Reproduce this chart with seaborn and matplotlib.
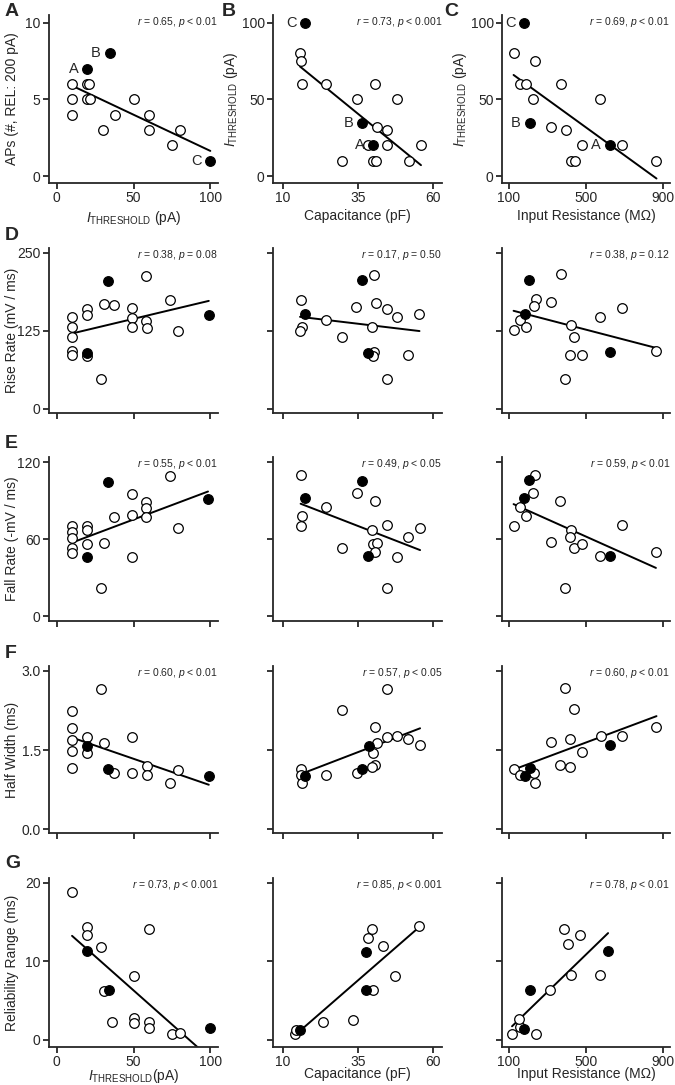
import numpy as np
import pandas as pd
import matplotlib
matplotlib.use("Agg")
import matplotlib.pyplot as plt
import seaborn as sns

# ---- data: (x, y) per panel, open circles and filled (example) cells ----
# row 1
a_open = [(10, 6), (10, 5), (10, 4), (20, 6), (21, 6), (20, 5), (22, 5), (30, 3), (38, 4),
          (50, 5), (60, 4), (60, 3), (75, 2), (80, 3)]
a_fill = [(20, 7), (34.5, 8), (100, 1)]
b_open = [(15.7, 80), (15.9, 75), (16.2, 60), (24.4, 60), (34.7, 50), (40.8, 60), (48.1, 50),
          (41.2, 32), (44.8, 30), (38.5, 20), (44.8, 20), (56, 20), (29.8, 10), (39.9, 10),
          (41, 10), (51.9, 10)]
b_fill = [(17.5, 100), (36.5, 34.5), (40.1, 20)]
c_open = [(124, 80), (236, 75), (156, 60), (190, 60), (368, 60), (225, 50), (573, 50),
          (319, 32), (396, 30), (479, 20), (688, 20), (420, 10), (441, 10), (865, 10)]
c_fill = [(180, 100), (208, 34.5), (622, 20)]
abc_labels = ["A", "B", "C"]

# row 2 - rise rate
d1_open = [(10, 147), (10, 132), (10, 115), (10, 93), (10, 86), (20, 160), (20, 150), (20, 85),
           (31, 169), (37, 167), (29, 48), (49, 162), (49, 146), (49, 132), (58, 213), (58, 141),
           (59, 130), (74, 175), (79, 125)]
d1_fill = [(33.5, 205), (19.6, 90), (99, 151)]
d2_open = [(15.9, 175), (16.2, 131), (15.7, 125), (24.4, 142), (29.8, 116), (34.5, 164),
           (40.5, 215), (41, 170), (44.6, 161), (47.9, 147), (55.5, 152), (39.6, 132),
           (40.5, 92), (39.9, 85), (51.7, 87), (44.6, 48)]
d2_fill = [(36.5, 206), (17.5, 152), (38.3, 90)]
d3_open = [(368, 217), (239, 176), (229, 165), (319, 171), (156, 143), (187, 131), (124, 126),
           (420, 134), (437, 116), (417, 87), (479, 87), (392, 48), (573, 148), (688, 162),
           (862, 93)]
d3_fill = [(204, 207), (183, 153), (622, 92)]

# row 3 - fall rate
e1_open = [(10, 70), (10, 66), (10, 61), (10, 53), (10, 49), (20, 70), (20, 67), (20, 56),
           (31, 57), (29, 22), (37, 77), (49, 95), (49, 79), (49, 46), (58, 89), (58, 84),
           (58, 77), (73.5, 109), (79, 69)]
e1_fill = [(33.5, 104.5), (19.6, 46.5), (98.5, 91.5)]
e2_open = [(15.9, 110), (16.2, 78), (15.9, 70), (24.4, 85), (34.7, 96), (40.8, 90), (44.8, 71),
           (39.6, 67), (51.7, 61.5), (55.7, 69), (39.9, 56), (41.2, 57), (40.8, 50), (29.8, 53),
           (48.1, 46.5), (44.8, 22)]
e2_fill = [(36.5, 105.5), (17.5, 92), (38.5, 47)]
e3_open = [(236, 110), (225, 96), (156, 85), (187, 78), (124, 70), (364, 90), (319, 58),
           (420, 67), (417, 61.5), (437, 53), (479, 56), (573, 47), (688, 71), (862, 50),
           (392, 22)]
e3_fill = [(204, 106), (180, 92.5), (622, 47)]

# row 4 - half width
f1_open = [(10, 2.23), (10, 1.92), (10, 1.69), (10, 1.49), (10, 1.16), (20, 1.74), (20, 1.44),
           (29, 2.65), (31, 1.63), (37, 1.07), (49, 1.75), (49, 1.06), (59, 1.2), (59, 1.02),
           (74, 0.87), (79, 1.13)]
f1_fill = [(19.6, 1.58), (33.5, 1.15), (99, 1.0)]
f2_open = [(44.8, 2.66), (29.8, 2.26), (40.8, 1.93), (41.2, 1.64), (44.8, 1.75), (47.9, 1.76),
           (51.7, 1.7), (55.7, 1.6), (40.1, 1.45), (40.8, 1.21), (39.6, 1.17), (34.7, 1.07),
           (24.4, 1.02), (15.9, 1.15), (15.9, 1.02), (16.2, 0.88)]
f2_fill = [(38.7, 1.58), (36.5, 1.15), (17.5, 1.0)]
f3_open = [(392, 2.68), (437, 2.27), (319, 1.65), (417, 1.71), (479, 1.46), (577, 1.76),
           (688, 1.76), (865, 1.94), (364, 1.22), (417, 1.17), (124, 1.15), (156, 1.03),
           (229, 1.07), (236, 0.88)]
f3_fill = [(625, 1.59), (208, 1.16), (183, 1.0)]

# row 5 - reliability range
g1_open = [(10, 18.8), (20, 14.4), (20, 13.3), (29, 11.8), (31, 6.2), (36, 2.3), (50, 8.1),
           (50, 2.8), (50, 2.2), (60, 14.1), (60, 2.3), (60, 1.5), (75, 0.7), (80, 0.9)]
g1_fill = [(20, 11.3), (34, 6.3), (100, 1.5)]
g2_open = [(14, 0.8), (14.3, 1.3), (23.5, 2.3), (33.4, 2.5), (38.4, 13), (39.7, 14.1), (40, 6.3),
           (43.3, 11.9), (47.3, 8.1), (55.5, 14.5)]
g2_fill = [(15.6, 1.3), (37.7, 6.3), (37.7, 11.2)]
g3_open = [(116, 0.8), (157, 1.7), (152, 2.6), (240, 0.8), (313, 6.3), (386, 14.1), (406, 12.2),
           (468, 13.3), (420, 8.3), (573, 8.3)]
g3_fill = [(178, 1.4), (209, 6.3), (614, 11.3)]

stats = [
    ["0.65, $p$ < 0.01", "0.73, $p$ < 0.001", "0.69, $p$ < 0.01"],
    ["0.38, $p$ = 0.08", "0.17, $p$ = 0.50", "0.38, $p$ = 0.12"],
    ["0.55, $p$ < 0.01", "0.49, $p$ < 0.05", "0.59, $p$ < 0.01"],
    ["0.60, $p$ < 0.01", "0.57, $p$ < 0.05", "0.60, $p$ < 0.01"],
    ["0.73, $p$ < 0.001", "0.85, $p$ < 0.001", "0.78, $p$ < 0.01"],
]
ithr = r"$I_{\mathrm{THRESHOLD}}$"
row_ylabels = ["APs (#, REL: 200 pA)", "Rise Rate (mV / ms)", "Fall Rate (-mV / ms)",
               "Half Width (ms)", "Reliability Range (ms)"]
col_xlabels = [ithr + " (pA)", "Capacitance (pF)", "Input Resistance (M\u03a9)"]
col_xticks = [[0, 50, 100], [10, 35, 60], [100, 500, 900]]
row_yticks = [[0, 5, 10], [0, 125, 250], [0, 60, 120], [0.0, 1.5, 3.0], [0, 10, 20]]
row_yticklabels = [["0", "5", "10"], ["0", "125", "250"], ["0", "60", "120"],
                   ["0.0", "1.5", "3.0"], ["0", "10", "20"]]
letters = ["A", "D", "E", "F", "G"]

panels = [
    [(a_open, a_fill), (b_open, b_fill), (c_open, c_fill)],
    [(d1_open, d1_fill), (d2_open, d2_fill), (d3_open, d3_fill)],
    [(e1_open, e1_fill), (e2_open, e2_fill), (e3_open, e3_fill)],
    [(f1_open, f1_fill), (f2_open, f2_fill), (f3_open, f3_fill)],
    [(g1_open, g1_fill), (g2_open, g2_fill), (g3_open, g3_fill)],
]

# ---- style ----
sns.set_style("ticks")
plt.rcParams["font.family"] = ["Liberation Sans", "DejaVu Sans"]
plt.rcParams["mathtext.fontset"] = "custom"
plt.rcParams["mathtext.rm"] = "Liberation Sans"
plt.rcParams["mathtext.it"] = "Liberation Sans:italic"
plt.rcParams["axes.linewidth"] = 1.3

W, H = 675, 1085
fig = plt.figure(figsize=(W / 100, H / 100), dpi=100)

col_px = [(49, 218), (273, 442), (502, 670)]
row_px = [(15, 183), (248, 413), (457, 621), (666, 833), (878, 1047)]
col_xlim = [(-5, 105), (6.7, 63), (64, 935)]
row_ylim = [(-0.45, 10.5), (-6.5, 258), (-3.5, 124), (-0.07, 3.09), (-0.9, 20.6)]
b_ylim = (-4.5, 105)

for r in range(5):
    for c in range(3):
        l, rr = col_px[c]
        t, b = row_px[r]
        ax = fig.add_axes([l / W, 1 - b / H, (rr - l) / W, (b - t) / H])
        op, fl = panels[r][c]
        d_open = pd.DataFrame(op, columns=["x", "y"])
        d_fill = pd.DataFrame(fl, columns=["x", "y"])
        d_all = pd.concat([d_open, d_fill], ignore_index=True)

        sns.regplot(data=d_all, x="x", y="y", ax=ax, scatter=False, ci=None,
                    line_kws=dict(color="black", lw=1.4))
        sns.scatterplot(data=d_open, x="x", y="y", ax=ax, s=48, color="white",
                        edgecolor="black", linewidth=0.9, zorder=3)
        sns.scatterplot(data=d_fill, x="x", y="y", ax=ax, s=48, color="black",
                        edgecolor="black", linewidth=0.9, zorder=4)

        ax.set_xlim(col_xlim[c])
        ax.set_xticks(col_xticks[c])
        if r == 0 and c > 0:
            ax.set_ylim(b_ylim)
            ax.set_yticks([0, 50, 100])
            ax.set_ylabel(ithr + " (pA)", fontsize=10)
            ax.yaxis.set_label_coords(-0.195, 0.5)
        else:
            ax.set_ylim(row_ylim[r])
            ax.set_yticks(row_yticks[r])
            if c == 0:
                ax.set_yticklabels(row_yticklabels[r])
                ax.set_ylabel(row_ylabels[r], fontsize=10)
                ax.yaxis.set_label_coords(-0.175, 0.5)
            else:
                ax.set_yticklabels([])
                ax.set_ylabel("")
        if r == 0 or r == 4:
            lab = col_xlabels[c]
            if r == 4 and c == 0:
                lab = ithr + "(pA)"
            ax.set_xlabel(lab, fontsize=10)
            ax.xaxis.set_label_coords(0.5, -0.155 if r == 0 else -0.12)
        else:
            ax.set_xticklabels([])
            ax.set_xlabel("")

        ax.tick_params(direction="out", length=4, width=1.3, labelsize=10, pad=2)
        sns.despine(ax=ax)
        ax.text(1.0, 1.0, "$r$ = " + stats[r][c], transform=ax.transAxes,
                ha="right", va="top", fontsize=7.5)

        if r == 0:
            for (x, y), lb in zip(fl, abc_labels if c == 0 else ["C", "B", "A"]):
                ax.annotate(lb, (x, y), xytext=(-10, 0), textcoords="offset points",
                            ha="center", va="center", fontsize=10.5)

# panel letters
fig.text(5 / W, 1 - 3 / H, "A", fontsize=14, fontweight="bold", va="top")
fig.text(222 / W, 1 - 3 / H, "B", fontsize=14, fontweight="bold", va="top")
fig.text(444 / W, 1 - 3 / H, "C", fontsize=14, fontweight="bold", va="top")
for lt, top in zip(letters[1:], [227, 435, 645, 855]):
    fig.text(5 / W, 1 - top / H, lt, fontsize=14, fontweight="bold", va="top")

fig.savefig("out.png", dpi=100)
